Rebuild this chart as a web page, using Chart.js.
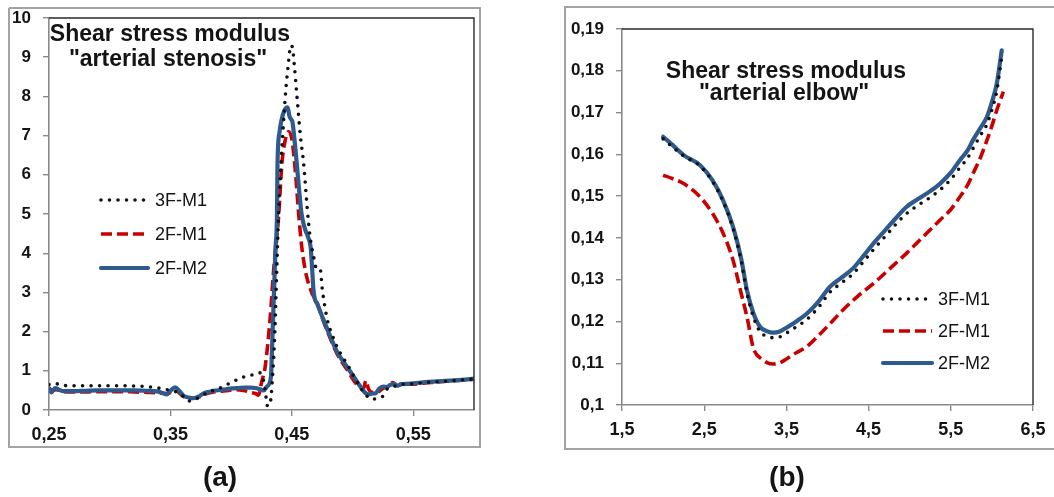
<!DOCTYPE html>
<html>
<head>
<meta charset="utf-8">
<script src="https://cdn.jsdelivr.net/npm/chart.js@4.4.1/dist/chart.umd.min.js"></script>
<style>
  html, body { margin: 0; padding: 0; background: #fff; }
  #wrap { position: relative; width: 1054px; height: 497px; overflow: hidden; }
  canvas { position: absolute; top: 0; }
  #cA { left: 0; }
  #cB { left: 527px; }
</style>
</head>
<body>
<div id="wrap">
  <canvas id="cA" width="527" height="497"></canvas>
  <canvas id="cB" width="527" height="497"></canvas>
</div>
<script>
// ---- Panel (a): shear stress modulus, arterial stenosis ----
const stenosisXTicks = [0.25, 0.35, 0.45, 0.55];
const stenosisYTicks = [0, 1, 2, 3, 4, 5, 6, 7, 8, 9, 10];

const sten3FM1_x = [0.250,0.255,0.260,0.270,0.280,0.290,0.300,0.310,0.320,0.330,0.340,0.350,0.355,0.360,0.365,0.370,0.375,0.380,0.390,0.400,0.410,0.418,0.423,0.426,0.428,0.430,0.432,0.434,0.436,0.4375,0.439,0.4415,0.4446,0.447,0.4492,0.4505,0.452,0.4542,0.457,0.4597,0.4625,0.4638,0.465,0.468,0.4707,0.4735,0.4748,0.4789,0.484,0.4899,0.496,0.502,0.508,0.512,0.516,0.520,0.5245,0.528,0.532,0.536,0.540,0.550,0.560,0.570,0.580,0.590,0.600];
const sten3FM1_y = [0.65,0.68,0.63,0.62,0.62,0.62,0.62,0.62,0.61,0.60,0.56,0.50,0.46,0.36,0.23,0.27,0.34,0.44,0.55,0.70,0.84,0.90,0.95,0.85,0.50,0.10,0.15,0.80,2.00,3.50,4.90,6.50,8.00,8.80,9.30,9.25,8.80,8.00,7.00,6.29,5.20,4.76,4.42,3.90,3.57,3.57,3.15,2.35,1.85,1.45,1.15,0.80,0.50,0.35,0.27,0.30,0.34,0.52,0.58,0.62,0.65,0.67,0.70,0.72,0.74,0.77,0.79];

const sten2FM1_x = [0.250,0.253,0.256,0.260,0.270,0.280,0.290,0.300,0.310,0.320,0.330,0.340,0.347,0.351,0.355,0.360,0.365,0.370,0.375,0.380,0.386,0.392,0.398,0.404,0.410,0.416,0.420,0.4225,0.425,0.428,0.432,0.435,0.439,0.4418,0.4446,0.4473,0.4501,0.4528,0.456,0.458,0.461,0.4635,0.4666,0.471,0.475,0.480,0.487,0.495,0.505,0.509,0.511,0.513,0.516,0.520,0.525,0.530,0.533,0.537,0.540,0.550,0.560,0.570,0.580,0.590,0.600];
const sten2FM1_y = [0.55,0.50,0.52,0.48,0.46,0.46,0.47,0.47,0.47,0.46,0.45,0.44,0.42,0.45,0.48,0.36,0.30,0.30,0.35,0.42,0.46,0.48,0.50,0.52,0.50,0.45,0.42,0.38,0.70,1.10,2.30,3.57,4.90,6.29,6.89,7.10,6.89,6.12,4.85,4.20,3.57,3.25,2.98,2.72,2.35,1.95,1.45,1.05,0.60,0.55,0.75,0.55,0.45,0.45,0.55,0.62,0.70,0.62,0.65,0.66,0.69,0.71,0.74,0.76,0.78];

const sten2FM2_x = [0.250,0.252,0.255,0.258,0.262,0.270,0.280,0.290,0.300,0.310,0.320,0.330,0.340,0.347,0.351,0.354,0.357,0.361,0.365,0.369,0.373,0.377,0.381,0.386,0.391,0.396,0.401,0.406,0.411,0.416,0.420,0.4245,0.427,0.4295,0.4328,0.4336,0.4355,0.4365,0.4377,0.4382,0.4399,0.4415,0.4440,0.4465,0.4480,0.4493,0.4505,0.4515,0.454,0.456,0.458,0.461,0.4635,0.4655,0.4665,0.468,0.471,0.4748,0.480,0.487,0.4954,0.501,0.5064,0.510,0.513,0.516,0.519,0.522,0.525,0.528,0.531,0.534,0.537,0.540,0.545,0.550,0.560,0.570,0.580,0.590,0.600];
const sten2FM2_y = [0.55,0.45,0.56,0.52,0.48,0.48,0.49,0.50,0.50,0.50,0.50,0.49,0.47,0.40,0.52,0.58,0.50,0.36,0.32,0.30,0.34,0.42,0.46,0.49,0.51,0.53,0.55,0.56,0.57,0.57,0.56,0.52,0.50,0.60,0.85,1.50,3.20,4.10,4.90,6.30,7.10,7.40,7.65,7.72,7.50,7.42,7.35,7.10,6.30,5.60,5.00,4.60,4.40,4.15,3.70,3.00,2.70,2.40,2.00,1.50,1.10,0.85,0.60,0.45,0.40,0.42,0.43,0.55,0.60,0.58,0.64,0.66,0.62,0.66,0.67,0.68,0.71,0.73,0.75,0.77,0.80];

// ---- Panel (b): shear stress modulus, arterial elbow ----
const elbowXTicks = [1.5, 2.5, 3.5, 4.5, 5.5, 6.5];
const elbowYTicks = [0.10, 0.11, 0.12, 0.13, 0.14, 0.15, 0.16, 0.17, 0.18, 0.19];

const elbowX = [2.00,2.10,2.25,2.45,2.60,2.73,2.85,2.95,3.02,3.10,3.18,3.26,3.34,3.42,3.50,3.62,3.75,3.90,4.03,4.17,4.31,4.45,4.56,4.70,4.83,4.96,5.10,5.25,5.37,5.50,5.61,5.70,5.77,5.85,5.94,6.00,6.06,6.12];
const elbow3FM1_y = [0.1637,0.1620,0.1596,0.1572,0.1535,0.1487,0.1423,0.1345,0.1268,0.1210,0.1175,0.1165,0.1161,0.1163,0.1172,0.1187,0.1205,0.1236,0.1270,0.1292,0.1314,0.1346,0.1372,0.1403,0.1432,0.1458,0.1478,0.1497,0.1515,0.1540,0.1568,0.1590,0.1614,0.1642,0.1672,0.1707,0.1752,0.1835];
const elbow2FM2_y = [0.1642,0.1625,0.1598,0.1574,0.1538,0.1490,0.1427,0.1350,0.1275,0.1219,0.1187,0.1177,0.1173,0.1176,0.1185,0.1200,0.1219,0.1250,0.1283,0.1305,0.1327,0.1360,0.1387,0.1418,0.1447,0.1474,0.1493,0.1512,0.1530,0.1556,0.1586,0.1608,0.1634,0.1660,0.1690,0.1725,0.1770,0.1849];

const elbow2FM1_x = [2.00,2.10,2.25,2.45,2.60,2.73,2.85,2.94,3.02,3.10,3.20,3.27,3.34,3.42,3.50,3.62,3.75,3.90,4.07,4.20,4.36,4.56,4.75,4.96,5.15,5.37,5.50,5.61,5.70,5.77,5.86,5.94,6.00,6.06,6.14];
const elbow2FM1_y = [0.1550,0.1543,0.1530,0.1498,0.1459,0.1411,0.1347,0.1275,0.1211,0.1135,0.1110,0.1101,0.1098,0.1101,0.1110,0.1125,0.1140,0.1168,0.1203,0.1230,0.1259,0.1291,0.1325,0.1363,0.1400,0.1443,0.1468,0.1498,0.1525,0.1554,0.1592,0.1634,0.1668,0.1706,0.1750];

const seriesLabels = ['3F-M1', '2F-M1', '2F-M2'];

// ---- helpers ----
const FONT = 'Arial, "Liberation Sans", sans-serif';
const TXT = '#141414';
const pts = (xs, ys) => xs.map((x, i) => ({ x: x, y: ys[i] }));
// decimal comma for tick labels
const comma = v => String(+Number(v).toFixed(4)).replace('.', ',');

const styles = [
  { borderColor: '#111111', borderWidth: 3.6, borderDash: [0, 8.5], borderCapStyle: 'round', order: 0 },
  { borderColor: '#c80000', borderWidth: 3.6, borderDash: [11, 5], borderCapStyle: 'butt', order: 2 },
  { borderColor: '#2e5a8e', borderWidth: 4.2, borderDash: [], borderCapStyle: 'round', order: 1 }
];

function makeDatasets(list) {
  return list.map((d, i) => Object.assign({
    label: seriesLabels[i],
    data: d,
    pointRadius: 0,
    fill: false,
    cubicInterpolationMode: 'monotone',
    borderJoinStyle: 'round'
  }, styles[i]));
}

// frame, plot box, titles, in-plot legend and panel tag
const decor = {
  id: 'decor',
  afterDraw(chart, args, o) {
    const ctx = chart.ctx, a = chart.chartArea;
    ctx.save();
    // outer frame
    ctx.strokeStyle = '#a3a3a3';
    ctx.lineWidth = 2;
    ctx.beginPath();
    o.frame.forEach((p, i) => i ? ctx.lineTo(p[0], p[1]) : ctx.moveTo(p[0], p[1]));
    ctx.stroke();
    // top and right edges of the plot box
    ctx.strokeStyle = '#2a2a2a';
    ctx.lineWidth = 1.4;
    ctx.beginPath();
    ctx.moveTo(a.left, a.top);
    ctx.lineTo(a.right, a.top);
    ctx.lineTo(a.right, a.bottom);
    ctx.stroke();
    // title
    ctx.fillStyle = TXT;
    ctx.textAlign = 'center';
    ctx.textBaseline = 'alphabetic';
    ctx.font = 'bold 23px ' + FONT;
    o.title.forEach(t => ctx.fillText(t.text, t.x, t.y));
    // legend
    const L = o.legend;
    chart.data.datasets.forEach((ds, i) => {
      const y = L.ys[i];
      ctx.save();
      ctx.strokeStyle = ds.borderColor;
      ctx.lineWidth = ds.borderWidth;
      ctx.lineCap = ds.borderCapStyle;
      ctx.setLineDash(ds.borderDash);
      ctx.beginPath();
      ctx.moveTo(L.x0, y);
      ctx.lineTo(L.x1, y);
      ctx.stroke();
      ctx.restore();
      ctx.fillStyle = TXT;
      ctx.textAlign = 'left';
      ctx.textBaseline = 'middle';
      ctx.font = '18px ' + FONT;
      ctx.fillText(ds.label, L.tx, y + 1);
    });
    // panel tag
    ctx.fillStyle = TXT;
    ctx.textAlign = 'center';
    ctx.textBaseline = 'alphabetic';
    ctx.font = 'bold 28px ' + FONT;
    ctx.fillText(o.tag.text, o.tag.x, o.tag.y);
    ctx.restore();
  }
};

function axis(min, max, ticks, fontSize, pad, isY, size) {
  return {
    type: 'linear',
    min: min,
    max: max,
    afterBuildTicks: s => { s.ticks = ticks.map(v => ({ value: v })); },
    afterTickToLabelConversion: s => { s.ticks.forEach(t => { t.label = comma(t.value); }); },
    afterFit: s => {
      if (isY) { s.width = size; } else { s.height = size; }
      s.paddingTop = 0; s.paddingBottom = 0; s.paddingLeft = 0; s.paddingRight = 0;
    },
    grid: { display: true, drawOnChartArea: false, drawTicks: true, tickLength: 6, color: '#8a8a8a', lineWidth: 1.4 },
    border: { display: true, color: '#8a8a8a', width: 1.6 },
    ticks: {
      autoSkip: false,
      maxRotation: 0,
      padding: pad,
      color: TXT,
      font: { family: FONT, size: fontSize, weight: 'bold' },
      callback: v => comma(v)
    }
  };
}

Chart.defaults.animation = false;

new Chart(document.getElementById('cA'), {
  type: 'line',
  data: {
    datasets: makeDatasets([
      pts(sten3FM1_x, sten3FM1_y),
      pts(sten2FM1_x, sten2FM1_y),
      pts(sten2FM2_x, sten2FM2_y)
    ])
  },
  options: {
    responsive: false,
    devicePixelRatio: 1,
    layout: { padding: { left: 9, right: 53, top: 18, bottom: 45 } },
    scales: {
      x: axis(0.25, 0.60, stenosisXTicks, 18, 8, false, 42),
      y: axis(0, 10, stenosisYTicks, 17, 12, true, 40)
    },
    plugins: {
      legend: { display: false },
      tooltip: { enabled: false },
      decor: {
        frame: [[9, 8], [480, 8], [480, 447], [9, 447], [9, 8]],
        title: [
          { text: 'Shear stress modulus', x: 170, y: 41 },
          { text: '"arterial stenosis"', x: 168, y: 66 }
        ],
        legend: { x0: 101, x1: 148, tx: 155, ys: [200, 234, 268] },
        tag: { text: '(a)', x: 220, y: 486 }
      }
    }
  },
  plugins: [decor]
});

new Chart(document.getElementById('cB'), {
  type: 'line',
  data: {
    datasets: makeDatasets([
      pts(elbowX, elbow3FM1_y),
      pts(elbow2FM1_x, elbow2FM1_y),
      pts(elbowX, elbow2FM2_y)
    ])
  },
  options: {
    responsive: false,
    devicePixelRatio: 1,
    layout: { padding: { left: 40, right: 21, top: 29, bottom: 50 } },
    scales: {
      x: axis(1.5, 6.5, elbowXTicks, 18, 8, false, 42),
      y: axis(0.1, 0.19, elbowYTicks, 17, 12, true, 55)
    },
    plugins: {
      legend: { display: false },
      tooltip: { enabled: false },
      decor: {
        frame: [[531, 7], [38, 7], [38, 449], [531, 449]],
        title: [
          { text: 'Shear stress modulus', x: 259, y: 78 },
          { text: '"arterial elbow"', x: 257, y: 100 }
        ],
        legend: { x0: 356, x1: 405, tx: 411, ys: [299, 331, 363] },
        tag: { text: '(b)', x: 260, y: 486 }
      }
    }
  },
  plugins: [decor]
});
</script>
</body>
</html>
